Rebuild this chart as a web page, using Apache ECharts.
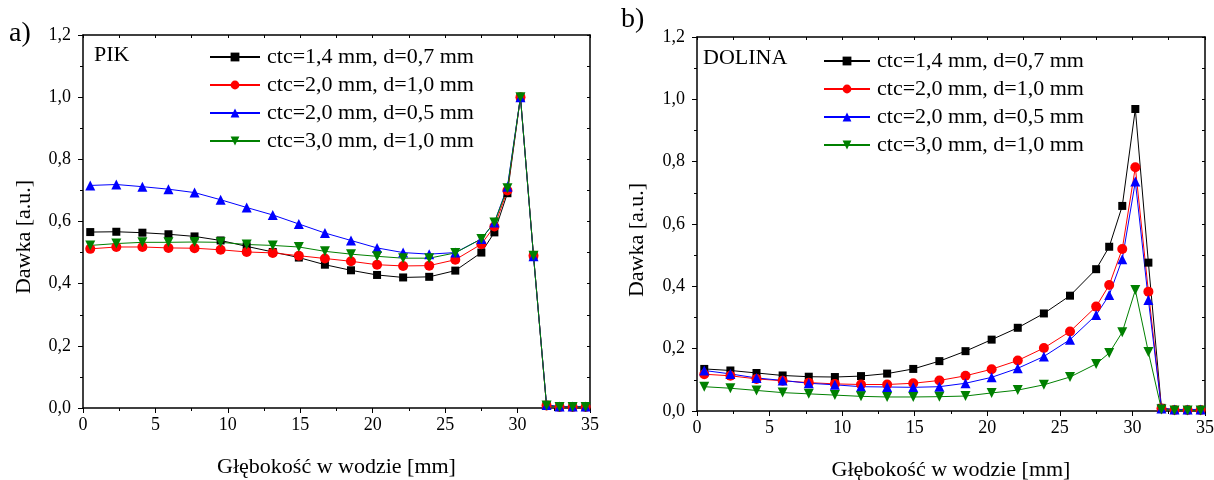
<!DOCTYPE html>
<html>
<head>
<meta charset="utf-8">
<script src="https://cdn.jsdelivr.net/npm/echarts@6/dist/echarts.min.js"></script>
<style>
  html, body { margin: 0; padding: 0; background: #fff; }
  #chart { width: 1214px; height: 480px; }
</style>
</head>
<body>
<div id="chart"></div>
<script>
// depth in water [mm]
var depths = [0.5, 2.3, 4.1, 5.9, 7.7, 9.5, 11.3, 13.1, 14.9, 16.7, 18.5, 20.3,
    22.1, 23.9, 25.7, 27.5, 28.4, 29.3, 30.2, 31.1, 32.0, 32.9, 33.8, 34.7];

var seriesNames = ['ctc=1,4 mm, d=0,7 mm', 'ctc=2,0 mm, d=1,0 mm',
    'ctc=2,0 mm, d=0,5 mm', 'ctc=3,0 mm, d=1,0 mm'];

// a) PIK
var pikBlack = [0.566, 0.567, 0.564, 0.559, 0.552, 0.539, 0.520, 0.502, 0.484, 0.461, 0.443, 0.428,
    0.420, 0.422, 0.442, 0.500, 0.565, 0.691, 1.0, 0.49, 0.008, 0.003, 0.003, 0.003];
var pikRed = [0.512, 0.518, 0.518, 0.515, 0.514, 0.509, 0.502, 0.499, 0.490, 0.481, 0.472, 0.461,
    0.457, 0.458, 0.477, 0.527, 0.584, 0.700, 1.0, 0.49, 0.008, 0.003, 0.003, 0.003];
var pikBlue = [0.716, 0.719, 0.712, 0.704, 0.693, 0.670, 0.645, 0.621, 0.592, 0.563, 0.539, 0.515,
    0.500, 0.495, 0.500, 0.544, 0.597, 0.712, 1.0, 0.488, 0.010, 0.005, 0.005, 0.005];
var pikGreen = [0.523, 0.529, 0.533, 0.533, 0.534, 0.533, 0.526, 0.523, 0.518, 0.504, 0.495, 0.488,
    0.482, 0.482, 0.499, 0.544, 0.597, 0.707, 1.0, 0.49, 0.008, 0.003, 0.003, 0.003];

// b) DOLINA
var dolBlack = [0.135, 0.130, 0.122, 0.114, 0.110, 0.109, 0.112, 0.120, 0.135, 0.160, 0.192, 0.229,
    0.267, 0.313, 0.370, 0.455, 0.527, 0.658, 0.969, 0.476, 0.010, 0.003, 0.003, 0.003];
var dolRed = [0.118, 0.113, 0.103, 0.097, 0.091, 0.087, 0.085, 0.085, 0.089, 0.098, 0.113, 0.134,
    0.162, 0.202, 0.255, 0.335, 0.404, 0.520, 0.782, 0.383, 0.008, 0.003, 0.003, 0.003];
var dolBlue = [0.130, 0.119, 0.106, 0.098, 0.089, 0.084, 0.078, 0.077, 0.076, 0.078, 0.089, 0.108,
    0.137, 0.175, 0.229, 0.308, 0.372, 0.487, 0.736, 0.356, 0.008, 0.005, 0.005, 0.005];
var dolGreen = [0.078, 0.073, 0.066, 0.059, 0.055, 0.051, 0.047, 0.045, 0.045, 0.046, 0.048, 0.058,
    0.067, 0.084, 0.109, 0.151, 0.186, 0.253, 0.388, 0.189, 0.005, 0.002, 0.002, 0.002];

var xTicks = { min: 0, max: 35, interval: 5 };
var yTicks = { min: 0, max: 1.2, interval: 0.2 };

var font = "'Liberation Serif', 'Times New Roman', serif";
var colors = ['#000000', '#ff0000', '#0000ff', '#008000'];
var symbols = ['rect', 'circle', 'triangle', 'triangle'];
var rotations = [0, 0, 0, 180];

function pairs(values) {
    return values.map(function (v, i) { return [depths[i], v]; });
}

function makeSeries(sets, idx) {
    return sets.map(function (values, i) {
        return {
            name: seriesNames[i],
            type: 'line',
            xAxisIndex: idx * 2,
            yAxisIndex: idx * 2,
            data: pairs(values),
            symbol: symbols[i],
            symbolRotate: rotations[i],
            symbolSize: i === 0 ? 8 : 10,
            color: colors[i],
            lineStyle: { width: 1, color: colors[i] },
            itemStyle: { color: colors[i] },
            animation: false
        };
    });
}

function bottomX(idx, gap) {
    return {
        gridIndex: idx, type: 'value', position: 'bottom',
        min: xTicks.min, max: xTicks.max, interval: xTicks.interval,
        name: 'Głębokość w wodzie [mm]', nameLocation: 'middle', nameGap: gap,
        nameTextStyle: { fontFamily: font, fontSize: 22, color: '#000' },
        axisLine: { onZero: false, lineStyle: { color: '#000', width: 1.5 } },
        axisTick: { inside: false, length: 5, lineStyle: { color: '#000' } },
        minorTick: { show: true, splitNumber: 2, length: 3, lineStyle: { color: '#000' } },
        axisLabel: { fontFamily: font, fontSize: 18, color: '#000', margin: 8 },
        splitLine: { show: false }
    };
}

function topX(idx) {
    return {
        gridIndex: idx, type: 'value', position: 'top',
        min: xTicks.min, max: xTicks.max, interval: xTicks.interval,
        axisLine: { onZero: false, lineStyle: { color: '#000', width: 1.5 } },
        axisTick: { inside: true, length: 3, lineStyle: { color: '#000' } },
        minorTick: { show: true, splitNumber: 2, length: 3, lineStyle: { color: '#000' } },
        axisLabel: { show: false },
        splitLine: { show: false }
    };
}

function leftY(idx) {
    return {
        gridIndex: idx, type: 'value', position: 'left',
        min: yTicks.min, max: yTicks.max, interval: yTicks.interval,
        axisLine: { onZero: false, lineStyle: { color: '#000', width: 1.5 } },
        axisTick: { inside: false, length: 5, lineStyle: { color: '#000' } },
        minorTick: { show: true, splitNumber: 2, length: 3, lineStyle: { color: '#000' } },
        axisLabel: {
            fontFamily: font, fontSize: 18, color: '#000', margin: 12,
            formatter: function (v) { return v.toFixed(1).replace('.', ','); }
        },
        splitLine: { show: false }
    };
}

function rightY(idx) {
    return {
        gridIndex: idx, type: 'value', position: 'right',
        min: yTicks.min, max: yTicks.max, interval: yTicks.interval,
        axisLine: { onZero: false, lineStyle: { color: '#000', width: 1.5 } },
        axisTick: { inside: true, length: 3, lineStyle: { color: '#000' } },
        minorTick: { show: true, splitNumber: 2, length: 3, lineStyle: { color: '#000' } },
        axisLabel: { show: false },
        splitLine: { show: false }
    };
}

function legendFor(left, top, w) {
    return {
        orient: 'vertical', left: left, top: top,
        itemWidth: w, itemHeight: 11, itemGap: 6,
        textStyle: { fontFamily: font, fontSize: 22, color: '#000', padding: [0, 0, 0, 2] },
        selectedMode: false,
        data: seriesNames
    };
}

function yTitle(x, y) {
    return {
        type: 'text', x: x, y: y, rotation: Math.PI / 2,
        style: { text: 'Dawka [a.u.]', font: '22px ' + font, fill: '#000', align: 'center', verticalAlign: 'middle' }
    };
}

var chart = echarts.init(document.getElementById('chart'));

var option = {
    backgroundColor: '#fff',
    animation: false,
    grid: [
        { left: 83, top: 35, width: 507, height: 373, containLabel: false, outerBoundsMode: 'none' },
        { left: 697, top: 37, width: 508, height: 374, containLabel: false, outerBoundsMode: 'none' }
    ],
    xAxis: [bottomX(0, 48), topX(0), bottomX(1, 48), topX(1)],
    yAxis: [leftY(0), rightY(0), leftY(1), rightY(1)],
    legend: [legendFor(204, 41, 50), legendFor(818, 45, 46)],
    graphic: [
        { type: 'text', left: 9, top: 20, style: { text: 'a)', font: '28px ' + font, fill: '#000' } },
        { type: 'text', left: 621, top: 6, style: { text: 'b)', font: '28px ' + font, fill: '#000' } },
        { type: 'text', left: 94, top: 44, style: { text: 'PIK', font: '22px ' + font, fill: '#000' } },
        { type: 'text', left: 703, top: 47, style: { text: 'DOLINA', font: '22px ' + font, fill: '#000' } },
        yTitle(24, 237),
        yTitle(637, 240)
    ],
    series: []
};

var left = makeSeries([pikBlack, pikRed, pikBlue, pikGreen], 0);
var right = makeSeries([dolBlack, dolRed, dolBlue, dolGreen], 1);
option.series = left.concat(right);

chart.setOption(option);
</script>
</body>
</html>
